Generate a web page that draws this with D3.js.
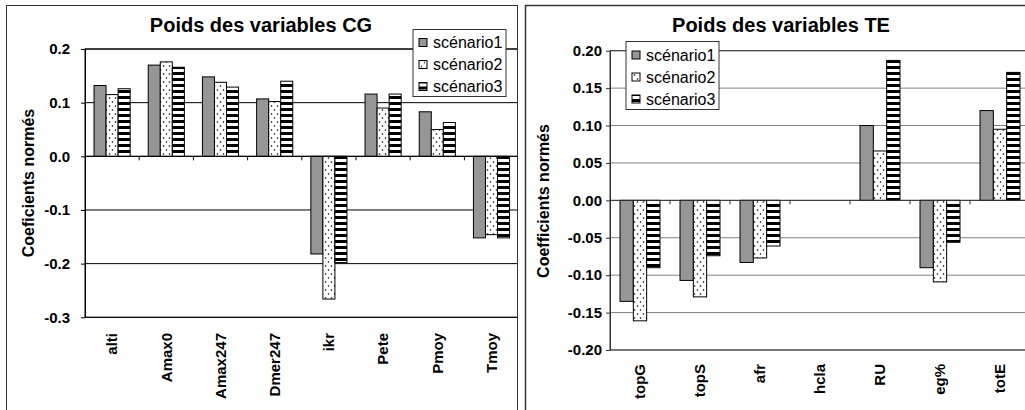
<!DOCTYPE html>
<html>
<head>
<meta charset="utf-8">
<script src="https://cdn.jsdelivr.net/npm/d3@7"></script>
<style>
  html, body { margin: 0; padding: 0; background: #fff; }
  svg { display: block; }
</style>
</head>
<body>
<div id="chart"></div>
<script>
// Two clustered bar charts (Excel style) side by side: CG and TE variable weights.
var seriesNames = ['scénario1', 'scénario2', 'scénario3'];

var cgCategories = ['alti', 'Amax0', 'Amax247', 'Dmer247', 'ikr', 'Pete', 'Pmoy', 'Tmoy'];
var cgScenario1 = [0.132, 0.170, 0.148, 0.107, -0.182, 0.116, 0.083, -0.152];
var cgScenario2 = [0.115, 0.176, 0.138, 0.102, -0.266, 0.090, 0.050, -0.146];
var cgScenario3 = [0.126, 0.166, 0.129, 0.140, -0.198, 0.116, 0.063, -0.152];
var cgTicks = [0.2, 0.1, 0.0, -0.1, -0.2, -0.3];

var teCategories = ['topG', 'topS', 'afr', 'hcla', 'RU', 'eg%', 'totE'];
var teScenario1 = [-0.135, -0.107, -0.083, 0, 0.100, -0.090, 0.120];
var teScenario2 = [-0.161, -0.129, -0.077, 0, 0.066, -0.109, 0.095];
var teScenario3 = [-0.090, -0.074, -0.061, 0, 0.187, -0.056, 0.171];
var teTicks = [0.20, 0.15, 0.10, 0.05, 0.00, -0.05, -0.10, -0.15, -0.20];

(function () {
    var W = 1025, H = 410;
    var FONT = "Arial, 'Liberation Sans', sans-serif";
    var loc = d3.formatLocale({ decimal: '.', thousands: ',', grouping: [3], currency: ['', ''], minus: '-' });

    var svg = d3.select('#chart').append('svg')
        .attr('width', W).attr('height', H)
        .attr('viewBox', '0 0 ' + W + ' ' + H);

    // fill patterns: grey, dotted, horizontal stripes
    var defs = svg.append('defs');
    var dots = defs.append('pattern').attr('id', 'dots')
        .attr('patternUnits', 'userSpaceOnUse').attr('width', 6).attr('height', 8);
    dots.append('rect').attr('width', 6).attr('height', 8).attr('fill', '#fff');
    dots.append('circle').attr('cx', 1.5).attr('cy', 2).attr('r', 0.8).attr('fill', '#000');
    dots.append('circle').attr('cx', 4.5).attr('cy', 6).attr('r', 0.8).attr('fill', '#000');

    var stripes = defs.append('pattern').attr('id', 'stripes')
        .attr('patternUnits', 'userSpaceOnUse').attr('width', 6).attr('height', 6);
    stripes.append('rect').attr('width', 6).attr('height', 6).attr('fill', '#fff');
    stripes.append('rect').attr('width', 6).attr('height', 3).attr('fill', '#000');

    var fills = ['#969696', 'url(#dots)', 'url(#stripes)'];

    function drawPanel(o) {
        var clipId = 'clip-' + o.id;
        defs.append('clipPath').attr('id', clipId)
            .append('rect').attr('x', o.frame.x).attr('y', o.frame.y)
            .attr('width', o.frame.w).attr('height', o.frame.h);

        var g = svg.append('g').attr('clip-path', 'url(#' + clipId + ')');

        var p = o.plot;
        var x = d3.scaleBand().domain(o.categories)
            .range([p.left, p.left + o.categories.length * o.step])
            .paddingInner(0).paddingOuter(0);
        var xs = d3.scaleBand().domain(d3.range(o.series.length))
            .range([0, x.bandwidth()]).paddingInner(0).paddingOuter(0.75);
        var y = d3.scaleLinear().domain(o.yDomain).range([p.bottom, p.top]);

        // gridlines
        g.append('g').selectAll('line').data(o.ticks).join('line')
            .attr('x1', p.left).attr('x2', p.right)
            .attr('y1', function (d) { return y(d); })
            .attr('y2', function (d) { return y(d); })
            .attr('stroke', o.gridColor).attr('stroke-width', 1);

        // plot area border
        g.append('rect')
            .attr('x', p.left).attr('y', y(o.yDomain[1]))
            .attr('width', p.right - p.left).attr('height', y(o.yDomain[0]) - y(o.yDomain[1]))
            .attr('fill', 'none').attr('stroke', o.axisColor).attr('stroke-width', 1);

        // bars
        o.series.forEach(function (vals, si) {
            g.append('g').selectAll('rect')
                .data(vals.map(function (v, i) { return { c: o.categories[i], v: v }; })
                    .filter(function (d) { return d.v !== 0; }))
                .join('rect')
                .attr('x', function (d) { return x(d.c) + xs(si); })
                .attr('width', xs.bandwidth())
                .attr('y', function (d) { return y(Math.max(0, d.v)); })
                .attr('height', function (d) { return Math.abs(y(d.v) - y(0)); })
                .attr('fill', fills[si])
                .attr('stroke', '#000').attr('stroke-width', 1);
        });

        // category axis along zero
        var y0 = y(0);
        g.append('line').attr('x1', p.left).attr('x2', p.right)
            .attr('y1', y0).attr('y2', y0)
            .attr('stroke', o.axisColor).attr('stroke-width', 1);
        var bounds = o.categories.map(function (c) { return x(c); }).slice(1)
            .concat([x.range()[1]]);
        g.append('g').selectAll('line').data(bounds).join('line')
            .attr('x1', function (d) { return d; }).attr('x2', function (d) { return d; })
            .attr('y1', y0).attr('y2', y0 + 4)
            .attr('stroke', o.axisColor).attr('stroke-width', 1);

        // value axis
        var yAxis = d3.axisLeft(y).tickValues(o.ticks).tickSize(4).tickSizeOuter(0)
            .tickPadding(o.tickPad).tickFormat(loc.format(o.tickFormat));
        var yg = g.append('g').attr('transform', 'translate(' + p.left + ',0)').call(yAxis);
        yg.selectAll('path,line').attr('stroke', o.axisColor);
        yg.selectAll('text').attr('fill', '#000')
            .attr('font-size', 15).attr('font-weight', 'bold').attr('font-family', FONT);

        // category labels, rotated
        g.append('g').selectAll('text').data(o.categories).join('text')
            .attr('transform', function (d) {
                return 'translate(' + (x(d) + x.bandwidth() / 2) + ',' + o.labelY + ') rotate(-90)';
            })
            .attr('dy', '0.35em')
            .attr('text-anchor', 'end')
            .attr('font-size', 15).attr('font-weight', 'bold').attr('font-family', FONT)
            .text(function (d) { return d; });

        // titles
        g.append('text').attr('x', o.titleX).attr('y', 32)
            .attr('text-anchor', 'middle')
            .attr('font-size', 20).attr('font-weight', 'bold').attr('font-family', FONT)
            .text(o.title);
        g.append('text')
            .attr('transform', 'translate(' + o.yTitleX + ',' + o.yTitleY + ') rotate(-90)')
            .attr('dy', '0.35em').attr('text-anchor', 'middle')
            .attr('font-size', 16).attr('font-weight', 'bold').attr('font-family', FONT)
            .text(o.yTitle);

        // legend
        var L = o.legend;
        var lg = g.append('g');
        lg.append('rect').attr('x', L.x).attr('y', L.y).attr('width', L.w).attr('height', L.h)
            .attr('fill', '#fff').attr('stroke', '#333').attr('stroke-width', 1);
        var rows = lg.selectAll('g.row').data(seriesNames).join('g')
            .attr('transform', function (d, i) { return 'translate(0,' + (L.y + L.rowTop + i * L.rowStep) + ')'; });
        rows.append('rect').attr('x', L.x + 6).attr('y', -4).attr('width', 8).attr('height', 8)
            .attr('fill', function (d, i) { return fills[i]; })
            .attr('stroke', '#000').attr('stroke-width', 1);
        rows.append('text').attr('x', L.x + 20).attr('dy', '0.35em')
            .attr('font-size', 16).attr('font-family', FONT)
            .text(function (d) { return d; });

        // chart frame
        svg.append('rect').attr('x', o.frame.x).attr('y', o.frame.y)
            .attr('width', o.frame.w).attr('height', o.frame.h)
            .attr('fill', 'none').attr('stroke', '#333').attr('stroke-width', o.frameWidth);
    }

    drawPanel({
        id: 'cg',
        frame: { x: 6.5, y: 5.5, w: 511, h: 420 },
        frameWidth: 1,
        plot: { left: 85, top: 49, right: 517.5, bottom: 317.3 },
        step: 54.2,
        categories: cgCategories,
        series: [cgScenario1, cgScenario2, cgScenario3],
        yDomain: [-0.3, 0.2],
        ticks: cgTicks,
        tickFormat: '.1f',
        tickPad: 11,
        gridColor: '#000',
        axisColor: '#000',
        labelY: 333,
        title: 'Poids des variables CG',
        titleX: 261,
        yTitle: 'Coeficients normés',
        yTitleX: 28, yTitleY: 183,
        legend: { x: 413, y: 29.5, w: 93, h: 67, rowTop: 13, rowStep: 22 }
    });

    drawPanel({
        id: 'te',
        frame: { x: 525.5, y: 5.5, w: 520, h: 420 },
        frameWidth: 1.5,
        plot: { left: 610, top: 50.7, right: 1030, bottom: 350 },
        step: 60,
        categories: teCategories,
        series: [teScenario1, teScenario2, teScenario3],
        yDomain: [-0.2, 0.2],
        ticks: teTicks,
        tickFormat: '.2f',
        tickPad: 4,
        gridColor: '#808080',
        axisColor: '#333',
        labelY: 364,
        title: 'Poids des variables TE',
        titleX: 781,
        yTitle: 'Coefficients normés',
        yTitleX: 543, yTitleY: 201,
        legend: { x: 626, y: 41.5, w: 93, h: 68, rowTop: 13.5, rowStep: 22 }
    });
})();
</script>
</body>
</html>
